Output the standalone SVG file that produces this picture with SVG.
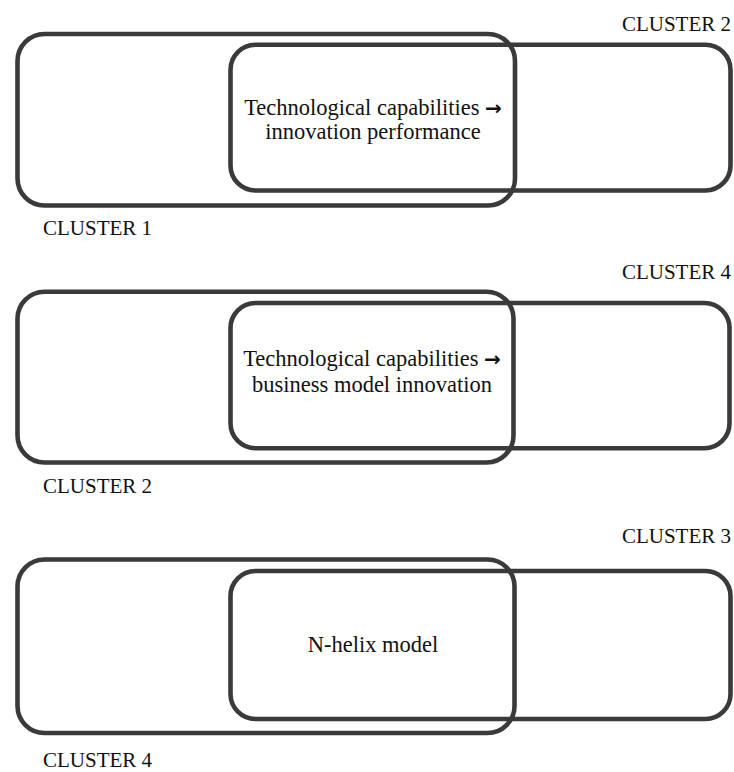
<svg xmlns="http://www.w3.org/2000/svg" width="734" height="772" viewBox="0 0 734 772">
  <style>
    .box { fill: none; stroke: #3a3a3a; stroke-width: 4.6; }
    .lbl { font-family: "Liberation Serif", "Times New Roman", serif; font-size: 21px; fill: #111; }
    .txt { font-family: "Liberation Serif", "Times New Roman", serif; font-size: 22.5px; fill: #111; text-anchor: middle; }
    .arr { font-family: "DejaVu Sans", sans-serif; font-weight: bold; font-size: 20px; }
  </style>
  <rect width="734" height="772" fill="#ffffff"/>

  <!-- Panel 1 -->
  <g id="panel1-cluster1">
    <rect class="box" x="17.5" y="34" width="497.5" height="171.5" rx="27" ry="27"/>
    <text class="lbl" x="43" y="235">CLUSTER 1</text>
  </g>
  <g id="panel1-cluster2">
    <rect class="box" x="230.5" y="44.7" width="500" height="145.8" rx="25" ry="25"/>
    <text class="lbl" x="731" y="30.5" text-anchor="end">CLUSTER 2</text>
  </g>
  <g id="panel1-overlap">
    <text class="txt" x="373" y="115">Technological capabilities <tspan class="arr">→</tspan></text>
    <text class="txt" x="373" y="139">innovation performance</text>
  </g>

  <!-- Panel 2 -->
  <g id="panel2-cluster2">
    <rect class="box" x="17.5" y="291.7" width="496" height="170.8" rx="27" ry="27"/>
    <text class="lbl" x="43" y="492.7">CLUSTER 2</text>
  </g>
  <g id="panel2-cluster4">
    <rect class="box" x="230.5" y="303" width="499" height="145.3" rx="25" ry="25"/>
    <text class="lbl" x="731" y="279.3" text-anchor="end">CLUSTER 4</text>
  </g>
  <g id="panel2-overlap">
    <text class="txt" x="372" y="365.5">Technological capabilities <tspan class="arr">→</tspan></text>
    <text class="txt" x="372" y="391.5">business model innovation</text>
  </g>

  <!-- Panel 3 -->
  <g id="panel3-cluster4">
    <rect class="box" x="17.5" y="559.5" width="497" height="173.5" rx="27" ry="27"/>
    <text class="lbl" x="43" y="767">CLUSTER 4</text>
  </g>
  <g id="panel3-cluster3">
    <rect class="box" x="230.5" y="571" width="500" height="148" rx="25" ry="25"/>
    <text class="lbl" x="731" y="543" text-anchor="end">CLUSTER 3</text>
  </g>
  <g id="panel3-overlap">
    <text class="txt" x="373" y="652">N-helix model</text>
  </g>

  <g id="connectors"/>
</svg>
